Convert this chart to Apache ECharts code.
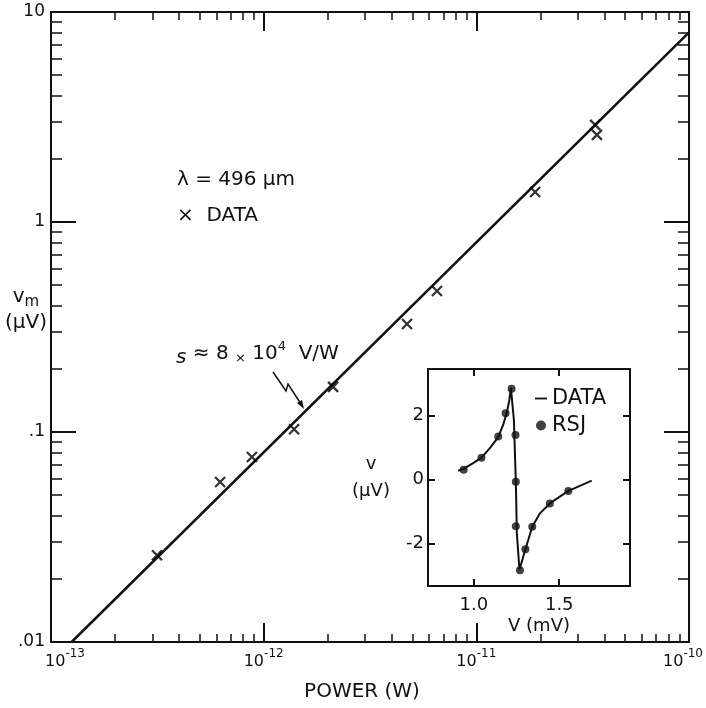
<!DOCTYPE html>
<html><head><meta charset="utf-8">
<script src="https://cdn.jsdelivr.net/npm/echarts@6/dist/echarts.min.js"></script>
<style>html,body{margin:0;padding:0;background:#fff}#c{width:706px;height:708px}</style>
</head><body><div id="c"></div>
<script>
// ---- main plot data ----
const powerW   = [3.15e-13, 6.24e-13, 8.8e-13, 1.39e-12, 2.12e-12, 4.72e-12, 6.53e-12, 1.89e-11, 3.62e-11, 3.69e-11];
const vmMicroV = [0.0259, 0.0578, 0.076, 0.103, 0.164, 0.327, 0.469, 1.39, 2.90, 2.60];
const fitPowerW = [1.25e-13, 1e-10];
const fitMicroV = [0.01, 8];
// ---- tick labels ----
const xMajorValues = [1e-13, 1e-12, 1e-11, 1e-10];
const xMajorExp = ['-13', '-12', '-11', '-10'];
const yMajorValues = [0.01, 0.1, 1, 10];
const yMajorLabels = ['.01', '.1', '1', '10'];
const minorMultipliers = [2, 3, 4, 5, 6, 7, 8, 9];
// ---- inset data ----
const rsjVmV    = [0.941, 1.045, 1.143, 1.186, 1.221, 1.244, 1.246, 1.246, 1.270, 1.302, 1.342, 1.445, 1.553];
const rsjMicroV = [0.30, 0.68, 1.34, 2.07, 2.83, 1.39, -0.07, -1.46, -2.84, -2.18, -1.48, -0.75, -0.36];
const dataVmV    = [0.908, 0.947, 0.996, 1.045, 1.094, 1.143, 1.172, 1.192, 1.207, 1.217, 1.2345, 1.246, 1.252, 1.267, 1.302, 1.342, 1.387, 1.445, 1.553, 1.621, 1.69];
const dataMicroV = [0.27, 0.35, 0.51, 0.68, 0.98, 1.32, 1.71, 2.07, 2.44, 2.86, 1.86, -0.07, -1.69, -2.82, -2.18, -1.48, -1.06, -0.75, -0.36, -0.20, -0.04];
const insetXTicks = [1.0, 1.5];
const insetYTicks = [-2, 0, 2];

const FONT = 'DejaVu Sans';
const BLACK = '#111';

function minorOf(majors) {
  const out = [];
  for (let i = 0; i < majors.length - 1; i++) minorMultipliers.forEach(m => out.push(+(majors[i] * m).toPrecision(3)));
  return out;
}
const xMinor = minorOf(xMajorValues);
const yMinor = minorOf(yMajorValues);

const lineStyle = { color: BLACK, width: 2 };
const mainGrid = { left: 51, top: 12, width: 638, height: 630, outerBoundsMode: 'none', containLabel: false };

function idxOf(arr, v) {
  let best = 0, bd = Infinity;
  arr.forEach((a, i) => { const d = Math.abs(Math.log10(a) - Math.log10(v)); if (d < bd) { bd = d; best = i; } });
  return best;
}

const chart = echarts.init(document.getElementById('c'), null, { renderer: 'canvas' });
const option = {
  backgroundColor: '#fff',
  animation: false,
  textStyle: { fontFamily: FONT, color: BLACK },
  grid: [
    mainGrid,
    Object.assign({}, mainGrid),
    { left: 428, top: 369, width: 202, height: 217, outerBoundsMode: 'none', containLabel: false }
  ],
  xAxis: [
    { gridIndex: 0, type: 'log', logBase: 10, min: 1e-13, max: 1e-10, position: 'bottom',
      name: 'POWER (W)', nameLocation: 'middle', nameGap: 40,
      nameTextStyle: { fontFamily: FONT, fontSize: 20, color: BLACK, padding: [0, 16, 0, 0] },
      axisLine: { show: true, onZero: false, lineStyle }, splitLine: { show: false },
      axisTick: { show: true, inside: true, length: 19, lineStyle, customValues: xMajorValues },
      axisLabel: { show: true, margin: 6, customValues: xMajorValues,
        formatter: v => { const i = idxOf(xMajorValues, v);
          const pre = i === 0 ? '{spA|}' : ''; const post = i === xMajorValues.length - 1 ? '{spB|}' : '';
          return pre + '{b|10}{e|' + xMajorExp[i] + '}' + post; },
        rich: { b: { fontFamily: FONT, fontSize: 16, color: BLACK, lineHeight: 22, verticalAlign: 'bottom' },
                e: { fontFamily: FONT, fontSize: 12, color: BLACK, lineHeight: 22, verticalAlign: 'top' },
                spA: { width: 28 }, spB: { width: 12 } } } },
    { gridIndex: 0, type: 'log', logBase: 10, min: 1e-13, max: 1e-10, position: 'top',
      axisLine: { show: true, onZero: false, lineStyle }, splitLine: { show: false },
      axisTick: { show: true, inside: true, length: 19, lineStyle, customValues: xMajorValues },
      axisLabel: { show: false } },
    { gridIndex: 1, type: 'log', logBase: 10, min: 1e-13, max: 1e-10, position: 'bottom',
      axisLine: { show: false, onZero: false }, splitLine: { show: false },
      axisTick: { show: true, inside: true, length: 8, lineStyle: { color: BLACK, width: 1.5 }, customValues: xMinor },
      axisLabel: { show: false } },
    { gridIndex: 1, type: 'log', logBase: 10, min: 1e-13, max: 1e-10, position: 'top',
      axisLine: { show: false, onZero: false }, splitLine: { show: false },
      axisTick: { show: true, inside: true, length: 8, lineStyle: { color: BLACK, width: 1.5 }, customValues: xMinor },
      axisLabel: { show: false } },
    { gridIndex: 2, type: 'value', min: 0.732, max: 1.914, position: 'bottom',
      name: 'V (mV)', nameLocation: 'middle', nameGap: 31,
      nameTextStyle: { fontFamily: FONT, fontSize: 18, color: BLACK, padding: [0, 0, 0, 20] },
      axisLine: { show: true, onZero: false, lineStyle }, splitLine: { show: false },
      axisTick: { show: true, inside: true, length: 7, lineStyle, customValues: insetXTicks },
      axisLabel: { show: true, margin: 10, fontSize: 18, fontFamily: FONT, color: BLACK, customValues: insetXTicks,
        formatter: v => v.toFixed(1) } },
    { gridIndex: 2, type: 'value', min: 0.732, max: 1.914, position: 'top',
      axisLine: { show: true, onZero: false, lineStyle }, splitLine: { show: false },
      axisTick: { show: true, inside: true, length: 7, lineStyle, customValues: insetXTicks },
      axisLabel: { show: false } }
  ],
  yAxis: [
    { gridIndex: 0, type: 'log', logBase: 10, min: 0.01, max: 10, position: 'left',
      axisLine: { show: true, onZero: false, lineStyle }, splitLine: { show: false },
      axisTick: { show: true, inside: true, length: 25, lineStyle, customValues: yMajorValues },
      axisLabel: { show: true, margin: 6, fontSize: 17, fontFamily: FONT, color: BLACK, customValues: yMajorValues,
        formatter: v => yMajorLabels[idxOf(yMajorValues, v)] } },
    { gridIndex: 0, type: 'log', logBase: 10, min: 0.01, max: 10, position: 'right',
      axisLine: { show: true, onZero: false, lineStyle }, splitLine: { show: false },
      axisTick: { show: true, inside: true, length: 25, lineStyle, customValues: yMajorValues },
      axisLabel: { show: false } },
    { gridIndex: 1, type: 'log', logBase: 10, min: 0.01, max: 10, position: 'left',
      axisLine: { show: false, onZero: false }, splitLine: { show: false },
      axisTick: { show: true, inside: true, length: 11, lineStyle: { color: BLACK, width: 1.5 }, customValues: yMinor },
      axisLabel: { show: false } },
    { gridIndex: 1, type: 'log', logBase: 10, min: 0.01, max: 10, position: 'right',
      axisLine: { show: false, onZero: false }, splitLine: { show: false },
      axisTick: { show: true, inside: true, length: 11, lineStyle: { color: BLACK, width: 1.5 }, customValues: yMinor },
      axisLabel: { show: false } },
    { gridIndex: 2, type: 'value', min: -3.33, max: 3.45, position: 'left',
      name: 'v\n(μV)', nameLocation: 'middle', nameRotate: 0, nameGap: 57,
      nameTextStyle: { fontFamily: FONT, fontSize: 18, color: BLACK, lineHeight: 27, align: 'center', padding: [16, 0, 0, 0] },
      axisLine: { show: true, onZero: false, lineStyle }, splitLine: { show: false },
      axisTick: { show: true, inside: true, length: 7, lineStyle, customValues: insetYTicks },
      axisLabel: { show: true, margin: 4, fontSize: 18, fontFamily: FONT, color: BLACK, customValues: insetYTicks,
        formatter: v => String(v) } },
    { gridIndex: 2, type: 'value', min: -3.33, max: 3.45, position: 'right',
      axisLine: { show: true, onZero: false, lineStyle }, splitLine: { show: false },
      axisTick: { show: true, inside: true, length: 7, lineStyle, customValues: insetYTicks },
      axisLabel: { show: false } }
  ],
  legend: {
    orient: 'vertical', left: 530, top: 383, itemWidth: 12, itemHeight: 10, itemGap: 6,
    textStyle: { fontFamily: FONT, fontSize: 21, color: BLACK },
    data: [ { name: 'DATA', icon: 'path://M0,4H13V6H0Z' }, { name: 'RSJ', icon: 'circle', itemStyle: { color: BLACK } } ]
  },
  series: [
    { name: 'fit', type: 'line', xAxisIndex: 0, yAxisIndex: 0, symbol: 'none',
      lineStyle: { color: BLACK, width: 2.5 }, data: fitPowerW.map((p, i) => [p, fitMicroV[i]]), z: 2 },
    { name: 'measured', type: 'scatter', xAxisIndex: 0, yAxisIndex: 0,
      symbol: 'path://M0,0L10,10M10,0L0,10', symbolSize: 10,
      itemStyle: { color: 'rgba(0,0,0,0)', borderColor: '#000', borderWidth: 2.3 },
      data: powerW.map((p, i) => [p, vmMicroV[i]]), z: 3 },
    { name: 'DATA', type: 'line', xAxisIndex: 4, yAxisIndex: 4, symbol: 'none',
      lineStyle: { color: BLACK, width: 2 }, itemStyle: { color: BLACK },
      data: dataVmV.map((v, i) => [v, dataMicroV[i]]) },
    { name: 'RSJ', type: 'scatter', xAxisIndex: 4, yAxisIndex: 4, symbol: 'circle', symbolSize: 8,
      itemStyle: { color: BLACK }, data: rsjVmV.map((v, i) => [v, rsjMicroV[i]]), z: 4 }
  ],
  graphic: [
    { type: 'text', x: 26, y: 310, style: {
        text: '{v|v}{s|m}\n{u|(μV)}', align: 'center', verticalAlign: 'middle',
        rich: { v: { fontFamily: FONT, fontSize: 20, fill: BLACK, lineHeight: 26, verticalAlign: 'middle' },
                s: { fontFamily: FONT, fontSize: 15, fill: BLACK, lineHeight: 26, verticalAlign: 'bottom' },
                u: { fontFamily: FONT, fontSize: 20, fill: BLACK, lineHeight: 26 } } } },
    { type: 'text', left: 177, top: 170, style: { text: 'λ = 496 μm', font: '20px "DejaVu Sans"', fill: BLACK } },
    { type: 'text', left: 177, top: 206, style: { text: '×  DATA', font: '20px "DejaVu Sans"', fill: BLACK } },
    { type: 'text', left: 176, top: 340, style: {
        text: '{i|s} ≈ 8 {x|×} 10{e|4}  V/W',
        font: '20px "DejaVu Sans"', fill: BLACK,
        rich: { i: { fontFamily: FONT, fontStyle: 'italic', fontSize: 20, fill: BLACK, lineHeight: 28, verticalAlign: 'bottom' },
                x: { fontFamily: FONT, fontSize: 13, fill: BLACK, lineHeight: 28, verticalAlign: 'bottom', padding: [0, 0, 3, 0] },
                e: { fontFamily: FONT, fontSize: 13, fill: BLACK, lineHeight: 28, verticalAlign: 'top' } } } },
    { type: 'polyline', shape: { points: [[273, 372], [286, 391], [288, 384], [301, 404]] },
      style: { stroke: BLACK, lineWidth: 1.5, fill: null } },
    { type: 'polygon', shape: { points: [[304, 409], [297, 403], [302, 400]] }, style: { fill: BLACK } }
  ]
};
chart.setOption(option);
</script></body></html>
